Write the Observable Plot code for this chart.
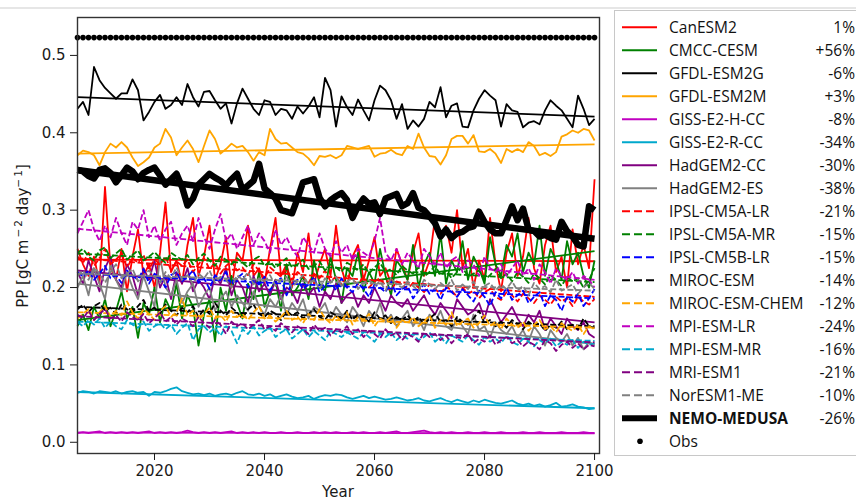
<!DOCTYPE html>
<html><head><meta charset="utf-8">
<script src="https://cdn.jsdelivr.net/npm/d3@7"></script>
<script src="https://cdn.jsdelivr.net/npm/@observablehq/plot@0.6"></script>
<style>
body{margin:0;background:#fff}
#chart{position:relative;width:856px;height:500px;overflow:hidden}
</style>
</head><body><div id="chart"></div>
<script>
const firstYear = 2006, lastYear = 2100;
const years = d3.range(firstYear, lastYear + 1);

const modelNames = ["CanESM2","CMCC-CESM","GFDL-ESM2G","GFDL-ESM2M","GISS-E2-H-CC","GISS-E2-R-CC","HadGEM2-CC","HadGEM2-ES","IPSL-CM5A-LR","IPSL-CM5A-MR","IPSL-CM5B-LR","MIROC-ESM","MIROC-ESM-CHEM","MPI-ESM-LR","MPI-ESM-MR","MRI-ESM1","NorESM1-ME","NEMO-MEDUSA"];
const changeLabels = ["1%","+56%","-6%","+3%","-8%","-34%","-30%","-38%","-21%","-15%","-15%","-14%","-12%","-24%","-16%","-21%","-10%","-26%"];
const trendStart = [.236,.158,.446,.373,.0125,.065,.222,.205,.238,.244,.218,.175,.168,.276,.156,.163,.218,.352];
const trendEnd   = [.234,.247,.421,.385,.0115,.044,.155,.127,.188,.207,.186,.150,.148,.210,.131,.129,.196,.263];
const obsValue = 0.523;

const canESM2 = [.250,.230,.215,.240,.205,.330,.225,.210,.250,.195,
.240,.275,.215,.230,.200,.245,.310,.220,.235,.205,
.255,.290,.215,.240,.280,.210,.230,.265,.200,.245,
.235,.280,.215,.225,.205,.250,.290,.215,.230,.200,
.245,.220,.270,.205,.230,.250,.215,.280,.225,.200,
.240,.255,.210,.235,.265,.215,.225,.205,.250,.230,
.210,.245,.270,.215,.235,.290,.260,.280,.245,.300,
.225,.250,.200,.235,.210,.290,.230,.195,.245,.270,
.215,.240,.290,.225,.205,.255,.280,.220,.240,.200,
.275,.230,.255,.225,.340];
const cmccCESM = [.150,.165,.145,.175,.160,.185,.150,.170,.195,.160,
.175,.135,.180,.165,.200,.155,.185,.170,.205,.160,
.190,.175,.125,.165,.185,.130,.200,.170,.215,.180,
.160,.205,.185,.220,.175,.195,.210,.170,.230,.190,
.200,.215,.185,.235,.205,.195,.240,.210,.180,.225,
.215,.245,.195,.220,.205,.250,.215,.190,.235,.225,
.210,.255,.200,.230,.245,.215,.270,.205,.235,.220,
.260,.210,.240,.225,.205,.265,.230,.215,.255,.240,
.270,.220,.245,.230,.280,.215,.250,.235,.210,.260,
.230,.245,.215,.200,.235];
const gfdlESM2G = [.431,.440,.423,.485,.468,.458,.451,.444,.451,.451,
.469,.455,.416,.427,.440,.449,.431,.436,.446,.436,
.463,.446,.434,.453,.454,.442,.431,.438,.412,.438,
.457,.444,.431,.423,.442,.440,.423,.431,.429,.418,
.434,.425,.434,.446,.420,.471,.455,.408,.447,.433,
.423,.443,.429,.416,.442,.461,.455,.442,.418,.437,
.405,.416,.408,.418,.440,.433,.459,.420,.435,.438,
.408,.407,.429,.444,.455,.448,.442,.408,.437,.429,
.427,.407,.413,.415,.411,.429,.442,.435,.429,.418,
.407,.448,.431,.410,.418];
const gfdlESM2M = [.371,.377,.375,.371,.358,.375,.386,.381,.388,.381,
.368,.357,.362,.368,.381,.386,.405,.394,.371,.381,
.390,.379,.362,.383,.403,.392,.373,.379,.386,.381,
.383,.375,.364,.375,.371,.405,.392,.386,.387,.381,
.375,.373,.367,.358,.370,.369,.371,.367,.371,.383,
.381,.379,.381,.383,.369,.373,.374,.378,.373,.371,
.383,.379,.399,.381,.370,.369,.359,.371,.392,.396,
.396,.386,.397,.376,.375,.379,.373,.361,.379,.375,
.379,.375,.388,.383,.371,.374,.370,.375,.395,.398,
.403,.400,.405,.403,.390];
const gissE2H = [.012,.013,.012,.013,.014,.012,.013,.012,.013,.012,
.013,.012,.013,.014,.012,.013,.012,.013,.012,.013,
.015,.013,.012,.013,.012,.013,.012,.013,.014,.012,
.013,.012,.013,.012,.013,.012,.012,.013,.012,.012,
.013,.012,.012,.013,.012,.013,.012,.013,.012,.012,
.013,.012,.013,.012,.012,.013,.012,.013,.014,.012,
.012,.013,.014,.015,.013,.012,.013,.012,.013,.012,
.012,.013,.012,.012,.013,.012,.012,.013,.012,.012,
.012,.013,.012,.012,.013,.012,.012,.012,.013,.012,
.012,.012,.013,.012,.012];
const gissE2R = [.064,.066,.065,.063,.066,.065,.064,.066,.063,.065,
.066,.064,.065,.060,.065,.064,.066,.069,.071,.066,
.064,.062,.063,.061,.063,.060,.062,.063,.061,.064,
.066,.062,.061,.063,.060,.062,.058,.060,.062,.059,
.057,.058,.060,.056,.059,.061,.060,.062,.061,.058,
.056,.058,.060,.057,.059,.057,.055,.056,.058,.056,
.054,.055,.057,.054,.053,.055,.057,.054,.052,.055,
.053,.051,.054,.052,.055,.053,.051,.050,.052,.054,
.050,.048,.050,.047,.049,.046,.048,.051,.046,.047,
.049,.046,.045,.043,.044];
const hadGEM2CC = [.220,.205,.235,.215,.195,.225,.240,.210,.200,.230,
.215,.190,.225,.210,.235,.200,.215,.185,.220,.205,
.225,.195,.210,.200,.185,.215,.205,.225,.190,.210,
.200,.180,.215,.195,.205,.190,.210,.185,.200,.195,
.180,.205,.190,.200,.175,.195,.185,.205,.180,.190,
.195,.175,.190,.180,.200,.185,.170,.190,.180,.175,
.185,.170,.180,.190,.175,.165,.180,.170,.160,.185,
.175,.165,.170,.180,.160,.185,.170,.155,.165,.175,
.160,.150,.165,.155,.170,.145,.160,.150,.140,.160,
.150,.145,.155,.140,.135];
const hadGEM2ES = [.200,.215,.190,.225,.205,.185,.230,.210,.195,.220,
.200,.185,.215,.195,.175,.240,.200,.190,.210,.180,
.195,.205,.175,.190,.200,.170,.185,.195,.175,.190,
.180,.170,.195,.175,.165,.185,.175,.190,.165,.180,
.170,.185,.160,.175,.170,.180,.160,.175,.165,.155,
.175,.165,.150,.170,.160,.180,.155,.165,.150,.160,
.170,.150,.160,.145,.165,.155,.170,.150,.145,.160,
.150,.140,.165,.145,.150,.135,.155,.145,.140,.150,
.135,.145,.130,.150,.140,.125,.145,.135,.130,.140,
.125,.135,.120,.130,.125];
const ipslCM5ALR = [.240,.232,.245,.228,.238,.250,.230,.236,.244,.226,
.238,.232,.242,.224,.236,.230,.240,.222,.234,.228,
.236,.220,.230,.238,.224,.232,.218,.228,.234,.222,
.226,.216,.230,.222,.212,.226,.220,.214,.224,.210,
.220,.214,.206,.218,.212,.222,.208,.214,.204,.216,
.210,.204,.214,.200,.208,.212,.202,.196,.208,.204,
.198,.206,.200,.194,.204,.198,.192,.202,.196,.188,
.200,.192,.196,.186,.194,.198,.188,.184,.194,.190,
.182,.192,.186,.180,.190,.184,.178,.188,.182,.186,
.176,.188,.182,.178,.185];
const ipslCM5AMR = [.245,.250,.240,.235,.248,.252,.238,.244,.250,.236,
.242,.248,.235,.240,.246,.238,.232,.245,.240,.236,
.242,.230,.238,.244,.235,.228,.240,.236,.230,.238,
.232,.226,.236,.240,.228,.234,.225,.232,.238,.226,
.230,.236,.224,.228,.234,.222,.230,.226,.220,.232,
.228,.222,.230,.218,.226,.232,.220,.224,.216,.228,
.222,.218,.226,.214,.220,.228,.216,.222,.212,.220,
.226,.214,.218,.222,.210,.216,.224,.212,.218,.208,
.220,.214,.206,.218,.212,.204,.216,.210,.202,.214,
.208,.212,.200,.210,.225];
const ipslCM5BLR = [.220,.214,.222,.210,.218,.228,.212,.216,.206,.222,
.215,.210,.224,.205,.218,.212,.200,.216,.220,.208,
.214,.222,.206,.212,.198,.216,.210,.220,.204,.212,
.218,.200,.210,.204,.214,.196,.208,.212,.190,.206,
.210,.198,.204,.214,.194,.202,.208,.196,.212,.200,
.194,.206,.198,.188,.204,.200,.194,.208,.190,.198,
.202,.186,.196,.204,.192,.198,.184,.200,.194,.188,
.198,.190,.182,.196,.188,.176,.194,.186,.200,.184,
.190,.196,.180,.188,.194,.176,.190,.184,.170,.188,
.182,.192,.176,.186,.198];
const mirocESM = [.172,.178,.168,.176,.180,.170,.174,.166,.178,.172,
.168,.176,.184,.170,.174,.166,.178,.170,.164,.174,
.168,.176,.162,.172,.166,.180,.170,.164,.174,.168,
.160,.172,.178,.166,.162,.170,.166,.158,.170,.164,
.168,.160,.166,.172,.162,.158,.168,.164,.160,.170,
.158,.166,.162,.156,.168,.160,.164,.154,.162,.158,
.164,.156,.162,.152,.160,.166,.156,.158,.150,.162,
.156,.152,.160,.170,.154,.158,.150,.156,.148,.158,
.152,.146,.156,.150,.154,.144,.152,.148,.156,.146,
.152,.146,.160,.150,.148];
const mirocESMCHEM = [.160,.166,.172,.158,.168,.176,.162,.170,.164,.182,
.168,.160,.172,.166,.158,.170,.176,.162,.168,.186,
.164,.170,.158,.166,.174,.160,.164,.156,.170,.162,
.166,.158,.168,.176,.160,.164,.156,.162,.170,.158,
.162,.154,.166,.158,.172,.160,.154,.164,.156,.168,
.152,.162,.158,.166,.150,.160,.156,.162,.148,.158,
.154,.162,.150,.156,.164,.148,.158,.152,.168,.150,
.156,.160,.148,.154,.164,.150,.156,.146,.160,.152,
.148,.156,.144,.152,.158,.146,.150,.142,.154,.148,
.144,.152,.140,.150,.146];
const mpiESMLR = [.270,.285,.300,.275,.260,.280,.265,.290,.270,.255,
.285,.275,.300,.265,.280,.260,.275,.285,.255,.270,
.280,.260,.290,.265,.250,.275,.295,.260,.270,.250,
.265,.280,.255,.270,.260,.245,.275,.255,.265,.250,
.240,.265,.255,.245,.270,.250,.240,.260,.245,.255,
.235,.250,.245,.240,.260,.290,.245,.235,.250,.230,
.245,.235,.225,.250,.240,.230,.245,.225,.235,.240,
.220,.235,.230,.215,.240,.225,.220,.230,.215,.225,
.235,.215,.225,.210,.230,.220,.205,.225,.215,.210,
.220,.205,.215,.210,.200];
const mpiESMMR = [.155,.150,.158,.152,.160,.148,.156,.150,.146,.158,
.152,.148,.156,.144,.150,.154,.146,.152,.140,.148,
.154,.132,.146,.150,.142,.148,.138,.150,.144,.128,
.146,.140,.150,.138,.144,.148,.136,.142,.146,.134,
.140,.146,.136,.144,.138,.132,.144,.140,.136,.142,
.138,.134,.142,.136,.130,.140,.136,.142,.132,.138,
.134,.140,.132,.136,.142,.130,.136,.128,.138,.134,
.130,.138,.132,.126,.136,.130,.134,.128,.138,.130,
.126,.134,.130,.124,.132,.128,.134,.124,.130,.126,
.132,.122,.130,.126,.128];
const mriESM1 = [.165,.160,.170,.158,.166,.172,.160,.164,.156,.168,
.162,.158,.166,.154,.160,.168,.156,.162,.152,.160,
.156,.150,.162,.154,.148,.158,.152,.140,.156,.150,
.154,.146,.152,.158,.146,.150,.144,.154,.148,.142,
.150,.146,.140,.152,.144,.148,.138,.146,.142,.150,
.140,.146,.136,.144,.140,.134,.146,.138,.142,.132,
.140,.136,.130,.142,.136,.140,.132,.138,.128,.136,
.134,.140,.128,.134,.130,.138,.126,.132,.136,.128,
.132,.124,.130,.126,.120,.132,.128,.118,.126,.130,
.122,.128,.120,.126,.124];
const norESM1ME = [.215,.222,.210,.226,.218,.206,.220,.230,.212,.218,
.224,.208,.216,.222,.214,.206,.220,.212,.226,.210,
.216,.204,.218,.212,.222,.206,.214,.210,.200,.216,
.210,.220,.204,.212,.208,.216,.202,.210,.214,.200,
.208,.216,.204,.210,.198,.212,.206,.214,.202,.208,
.212,.198,.206,.210,.202,.208,.196,.212,.204,.200,
.208,.202,.196,.210,.204,.198,.206,.200,.210,.196,
.204,.198,.208,.192,.202,.206,.196,.204,.198,.208,
.196,.202,.190,.206,.198,.202,.194,.210,.196,.200,
.204,.192,.200,.206,.198];
const nemoMEDUSA = [.352,.350,.344,.341,.352,.354,.348,.336,.345,.355,
.350,.340,.348,.352,.355,.345,.333,.340,.347,.330,
.306,.315,.333,.340,.347,.342,.338,.332,.340,.347,
.326,.332,.338,.360,.328,.322,.315,.300,.298,.296,
.315,.336,.338,.340,.316,.305,.313,.318,.322,.313,
.290,.305,.315,.308,.310,.295,.315,.318,.321,.305,
.309,.322,.303,.300,.292,.283,.266,.275,.264,.270,
.272,.277,.279,.298,.285,.275,.270,.270,.287,.305,
.287,.302,.275,.273,.266,.268,.264,.262,.285,.273,
.266,.255,.253,.305,.300];

const seriesValues = [canESM2,cmccCESM,gfdlESM2G,gfdlESM2M,gissE2H,gissE2R,hadGEM2CC,hadGEM2ES,ipslCM5ALR,ipslCM5AMR,ipslCM5BLR,mirocESM,mirocESMCHEM,mpiESMLR,mpiESMMR,mriESM1,norESM1ME,nemoMEDUSA];

const colors = ["#ff0000","#008000","#000000","#ffa500","#c000c0","#00a8cc","#800080","#808080",
                "#ff0000","#008000","#0000ff","#000000","#ffa500","#c000c0","#00a8cc","#800080","#808080","#000000"];
const dashed = [false,false,false,false,false,false,false,false,true,true,true,true,true,true,true,true,true,false];
const widths = modelNames.map((n) => n === "NEMO-MEDUSA" ? 6.5 : 1.8);

const marks = [];
seriesValues.forEach((vals, i) => {
  const rows = years.map((yr, j) => ({year: yr, value: vals[j]}));
  const style = {
    x: "year", y: "value",
    stroke: colors[i], strokeWidth: widths[i],
    strokeDasharray: dashed[i] ? "6,2.6" : null,
    strokeLinejoin: "round", strokeLinecap: "butt"
  };
  marks.push(Plot.line(rows, style));
  marks.push(Plot.line([{year: firstYear, value: trendStart[i]}, {year: lastYear, value: trendEnd[i]}], style));
});
marks.push(Plot.dot(years, {x: (d) => d, y: () => obsValue, r: 2.8, fill: "#000", stroke: "none"}));

const yTicks = [0, 0.1, 0.2, 0.3, 0.4, 0.5];
const xTicks = [2020, 2040, 2060, 2080, 2100];

const plot = Plot.plot({
  width: 856, height: 500,
  marginLeft: 77, marginRight: 257, marginTop: 17, marginBottom: 47,
  style: {fontFamily: "DejaVu Sans", fontSize: "15px", color: "#1a1a1a", background: "#fff"},
  x: {domain: [2006, 2100.9]},
  y: {domain: [-0.0145, 0.549]},
  marks: [
    ...marks,
    Plot.frame({stroke: "#333", strokeWidth: 1.4}),
    Plot.axisY({ticks: yTicks, tickFormat: d3.format(".1f"), tickSize: 7, tickPadding: 5, label: null, fontSize: 15}),
    Plot.axisX({ticks: xTicks, tickFormat: d3.format("d"), tickSize: 7, tickPadding: 5, label: null, fontSize: 15})
  ]
});
document.getElementById("chart").appendChild(plot);

const svg = d3.select(plot);
svg.append("line").attr("x1", 0).attr("x2", 856).attr("y1", 8).attr("y2", 8)
  .attr("stroke", "#e6e6e6").attr("stroke-width", 2);

svg.append("text").attr("x", 338).attr("y", 497).attr("text-anchor", "middle")
  .attr("font-family", "DejaVu Sans").attr("font-size", 15).attr("fill", "#1a1a1a").text("Year");
const yl = svg.append("text").attr("transform", "translate(28,236) rotate(-90)").attr("text-anchor", "middle")
  .attr("font-family", "DejaVu Sans").attr("font-size", 15).attr("fill", "#1a1a1a");
yl.append("tspan").text("PP [gC m");
yl.append("tspan").attr("dy", -6).attr("font-size", 10.5).text("\u2009\u2212\u20092");
yl.append("tspan").attr("dy", 6).text(" day");
yl.append("tspan").attr("dy", -6).attr("font-size", 10.5).text("\u2212\u20091");
yl.append("tspan").attr("dy", 6).text("]");

const lg = svg.append("g");
lg.append("rect").attr("x", 614.5).attr("y", 10.5).attr("width", 260).attr("height", 445)
  .attr("fill", "#fff").attr("stroke", "#c8c8c8").attr("stroke-width", 1);
const legendNames = [...modelNames, "Obs"];
legendNames.forEach((name, i) => {
  const cy = 27.3 + i * 23;
  if (name === "Obs") {
    lg.append("circle").attr("cx", 640).attr("cy", cy).attr("r", 2.8).attr("fill", "#000");
  } else {
    lg.append("line").attr("x1", 622).attr("x2", 657).attr("y1", cy).attr("y2", cy)
      .attr("stroke", colors[i]).attr("stroke-width", name === "NEMO-MEDUSA" ? 6 : 2)
      .attr("stroke-dasharray", dashed[i] ? "8,4" : null);
  }
  lg.append("text").attr("x", 669).attr("y", cy + 5.5).attr("text-anchor", "start")
    .attr("font-family", "Open Sans").attr("font-size", 15.5).attr("fill", "#111")
    .attr("font-weight", name === "NEMO-MEDUSA" ? "bold" : "normal").text(name);
  if (i < changeLabels.length) {
    lg.append("text").attr("x", 855).attr("y", cy + 5.5).attr("text-anchor", "end")
      .attr("font-family", "Open Sans").attr("font-size", 15.5).attr("fill", "#111").text(changeLabels[i]);
  }
});
</script>
</body></html>
